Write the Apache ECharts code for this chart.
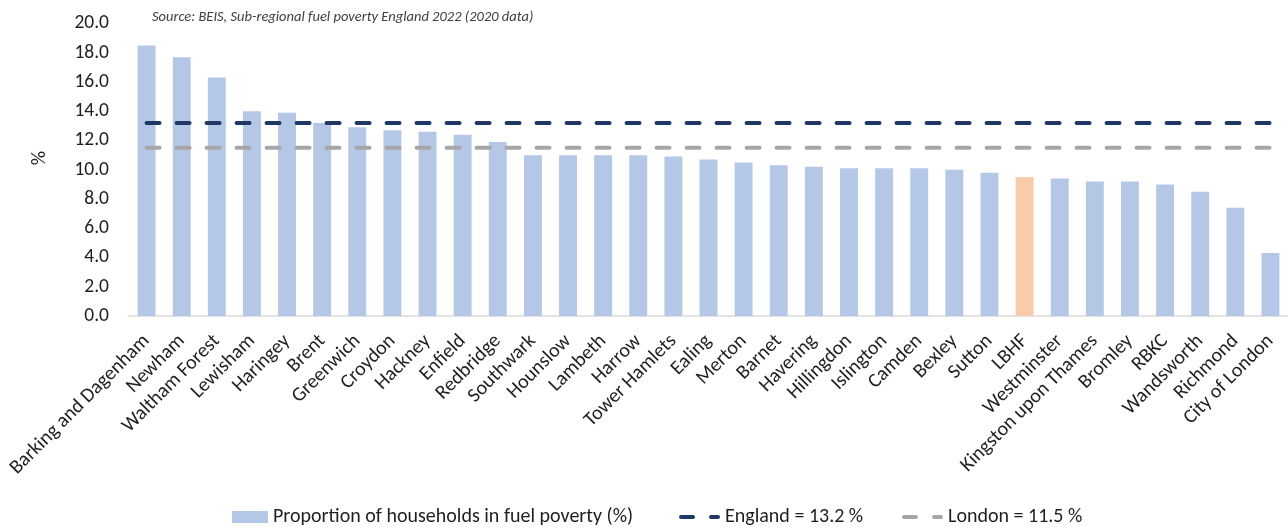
<!DOCTYPE html>
<html>
<head>
<meta charset="utf-8">
<script src="https://cdn.jsdelivr.net/npm/echarts@6/dist/echarts.min.js"></script>
<style>
  html, body { margin: 0; padding: 0; background: #fff; }
  #chart { width: 1288px; height: 529px; }
</style>
</head>
<body>
<div id="chart"></div>
<script>
// London boroughs, ranked by share of households in fuel poverty
const boroughs = [
  'Barking and Dagenham', 'Newham', 'Waltham Forest', 'Lewisham', 'Haringey',
  'Brent', 'Greenwich', 'Croydon', 'Hackney', 'Enfield', 'Redbridge',
  'Southwark', 'Hounslow', 'Lambeth', 'Harrow', 'Tower Hamlets', 'Ealing',
  'Merton', 'Barnet', 'Havering', 'Hillingdon', 'Islington', 'Camden',
  'Bexley', 'Sutton', 'LBHF', 'Westminster', 'Kingston upon Thames',
  'Bromley', 'RBKC', 'Wandsworth', 'Richmond', 'City of London'
];

const fuelPoverty = [
  18.5, 17.7, 16.3, 14.0, 13.9, 13.2, 12.9, 12.7, 12.6, 12.4, 11.9,
  11.0, 11.0, 11.0, 11.0, 10.9, 10.7, 10.5, 10.3, 10.2, 10.1, 10.1, 10.1,
  10.0, 9.8, 9.5, 9.4, 9.2, 9.2, 9.0, 8.5, 7.4, 4.3
];

const highlighted = 'LBHF';
const englandRate = 13.2;
const londonRate = 11.5;

const barName = 'Proportion of households in fuel poverty (%)';
const englandName = 'England = 13.2 %';
const londonName = 'London = 11.5 %';
const sourceNote = 'Source: BEIS, Sub-regional fuel poverty England 2022 (2020 data)';
const unitLabel = '%';

const FONT = 'Carlito, Calibri, Lato, sans-serif';
const TEXT = '#1f1f1f';
const BAR = '#b4c7e7';
const BAR_HL = '#f8cbad';
const ENGLAND = '#203864';
const LONDON = '#a6a6a6';

// "long dash + short dash" key used for the benchmark lines
const dashIcon = 'path://M2,0h12a2,2 0 0 1 0,4h-12a2,2 0 0 1 0,-4z M32,0h7a2,2 0 0 1 0,4h-7a2,2 0 0 1 0,-4z';

const legendText = { fontFamily: FONT, fontSize: 20, color: TEXT };

const chart = echarts.init(document.getElementById('chart'), null, { renderer: 'canvas' });

chart.setOption({
  animation: false,
  backgroundColor: '#ffffff',
  title: {
    text: sourceNote,
    left: 147,
    top: 5,
    textStyle: { fontFamily: FONT, fontStyle: 'italic', fontWeight: 'normal', fontSize: 14.5, color: '#404040' }
  },
  graphic: [{
    type: 'text',
    x: 40,
    y: 158,
    rotation: Math.PI / 2,
    style: {
      text: unitLabel,
      fontFamily: FONT,
      fontSize: 20,
      fill: TEXT,
      align: 'center',
      verticalAlign: 'middle'
    }
  }],
  grid: { left: 129, top: 23.5, width: 1161, height: 292.5, containLabel: false },
  legend: [
    {
      left: 227, top: 502,
      itemWidth: 36, itemHeight: 12,
      textStyle: legendText,
      data: [{ name: barName, icon: 'rect' }]
    },
    {
      left: 674, top: 502,
      itemWidth: 41, itemHeight: 4,
      textStyle: legendText,
      data: [{ name: englandName, icon: dashIcon }]
    },
    {
      left: 897, top: 502,
      itemWidth: 41, itemHeight: 4,
      textStyle: legendText,
      data: [{ name: londonName, icon: dashIcon }]
    }
  ],
  xAxis: {
    type: 'category',
    data: boroughs,
    axisLine: { lineStyle: { color: '#d9d9d9', width: 1.5 } },
    axisTick: { show: false },
    axisLabel: {
      interval: 0,
      rotate: 45,
      margin: 22,
      fontFamily: FONT,
      fontSize: 20,
      color: TEXT
    }
  },
  yAxis: {
    type: 'value',
    min: 0,
    max: 20,
    interval: 2,
    axisLine: { show: false },
    axisTick: { show: false },
    splitLine: { show: false },
    axisLabel: {
      margin: 20,
      fontFamily: FONT,
      fontSize: 19.5,
      color: TEXT,
      formatter: v => v.toFixed(1)
    }
  },
  series: [
    {
      name: barName,
      type: 'bar',
      barCategoryGap: '49%',
      itemStyle: { color: BAR },
      data: boroughs.map((b, i) => ({
        value: fuelPoverty[i],
        itemStyle: b === highlighted ? { color: BAR_HL } : undefined
      })),
      z: 1
    },
    {
      name: englandName,
      type: 'line',
      data: boroughs.map(() => englandRate),
      symbol: 'none',
      lineStyle: { color: ENGLAND, width: 4, type: [13, 17], cap: 'round' },
      itemStyle: { color: ENGLAND },
      z: 3
    },
    {
      name: londonName,
      type: 'line',
      data: boroughs.map(() => londonRate),
      symbol: 'none',
      lineStyle: { color: LONDON, width: 4, type: [13, 17], cap: 'round' },
      itemStyle: { color: LONDON },
      z: 2
    }
  ]
});
</script>
</body>
</html>
